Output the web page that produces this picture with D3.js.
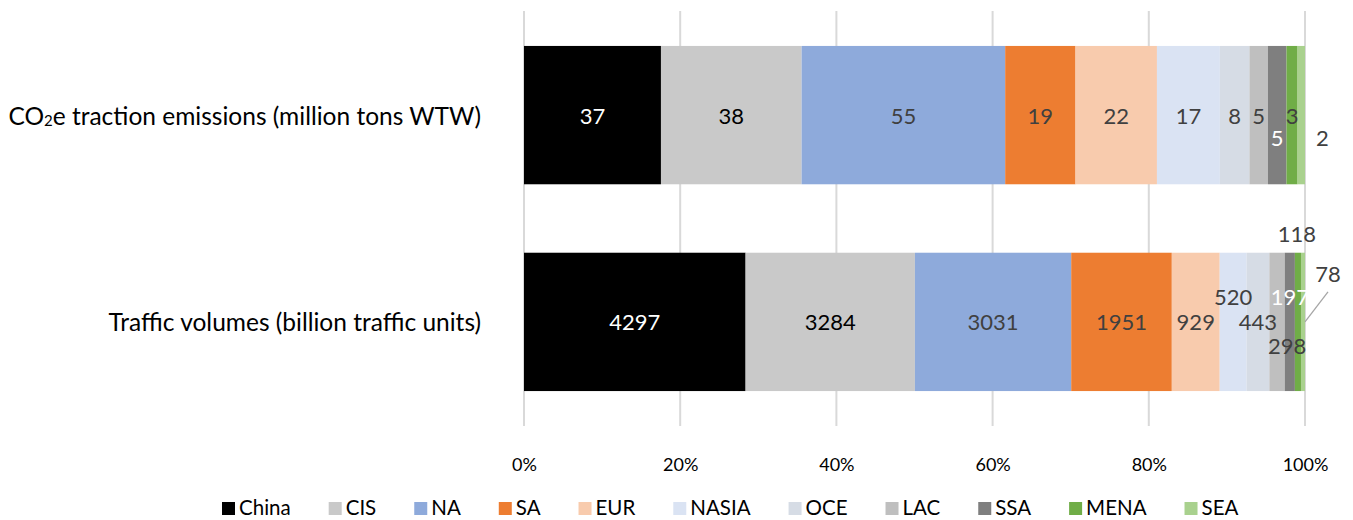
<!DOCTYPE html>
<html>
<head>
<meta charset="utf-8">
<script src="https://cdn.jsdelivr.net/npm/d3@7"></script>
<style>
  body { margin: 0; background: #fff; }
  svg { display: block; font-family: Lato, "Open Sans", sans-serif; }
</style>
</head>
<body>
<svg id="chart" width="1353" height="520"></svg>
<script>
// ---- data ----
const regions = ["China", "CIS", "NA", "SA", "EUR", "NASIA", "OCE", "LAC", "SSA", "MENA", "SEA"];
const categories = ["CO2e traction emissions (million tons WTW)", "Traffic volumes (billion traffic units)"];
const emissions = [37, 38, 55, 19, 22, 17, 8, 5, 5, 3, 2];
const traffic = [4297, 3284, 3031, 1951, 929, 520, 443, 298, 197, 118, 78];
const tickValues = [0, 0.2, 0.4, 0.6, 0.8, 1.0];
const tickLabels = ["0%", "20%", "40%", "60%", "80%", "100%"];

// ---- styles ----
const colors = ["#000000", "#c9c9c9", "#8eaadb", "#ed7d31", "#f8cbad", "#dae3f3", "#d6dce5", "#bfbfbf", "#7f7f7f", "#70ad47", "#a9d18e"];
const labelColors = ["#ffffff", "#000000", "#404040", "#404040", "#404040", "#404040", "#404040", "#404040", "#ffffff", "#404040", "#404040"];
// manual label nudges (dx, dy) for the crowded end segments, per category
const nudges = [
  [[0,0],[0,0],[0,0],[0,0],[0,0],[0,0],[0,0],[0,0],[0,22],[0,0],[21,22]],
  [[0,0],[0,0],[0,0],[0,0],[0,0],[0,-25],[0,0],[10,24],[0,-25],[-1,-88],[25,-48]]
];

const svg = d3.select("#chart");
const x = d3.scaleLinear().domain([0, 1]).range([524, 1305]);
const y = d3.scaleBand().domain(categories).range([11, 426]).paddingInner(0.331).paddingOuter(0.169);

// gridlines
svg.append("g").selectAll("line").data(tickValues).join("line")
  .attr("x1", d => x(d)).attr("x2", d => x(d))
  .attr("y1", 11).attr("y2", 426)
  .attr("stroke", "#d9d9d9").attr("stroke-width", 2);

// tick labels via axis
const axis = d3.axisBottom(x).tickValues(tickValues).tickFormat((d, i) => tickLabels[i]).tickSize(0).tickPadding(0);
const ax = svg.append("g").attr("transform", "translate(0,471)").call(axis);
ax.select(".domain").remove();
ax.selectAll("text").attr("font-size", 18).attr("fill", "#000").attr("font-family", "Lato, sans-serif").attr("dy", 0);

const seriesData = [emissions, traffic];
seriesData.forEach((vals, ci) => {
  const total = d3.sum(vals);
  let cum = 0;
  const segs = vals.map((v, i) => { const s = { i, v, x0: cum / total, x1: (cum + v) / total }; cum += v; return s; });
  const g = svg.append("g");
  const cat = categories[ci];
  g.selectAll("rect").data(segs).join("rect")
    .attr("x", d => x(d.x0)).attr("width", d => x(d.x1) - x(d.x0))
    .attr("y", y(cat)).attr("height", y.bandwidth())
    .attr("fill", d => colors[d.i]);
  const cy = y(cat) + y.bandwidth() / 2;
  // leader line for SEA in traffic
  if (ci === 1) {
    const s = segs[10];
    g.append("line")
      .attr("x1", x(1)).attr("y1", cy)
      .attr("x2", x((s.x0 + s.x1) / 2) + nudges[ci][10][0]).attr("y2", cy + nudges[ci][10][1] + 18)
      .attr("stroke", "#a6a6a6").attr("stroke-width", 1.3);
  }
  g.selectAll("text").data(segs).join("text")
    .attr("x", d => x((d.x0 + d.x1) / 2) + nudges[ci][d.i][0])
    .attr("y", d => cy + nudges[ci][d.i][1])
    .attr("text-anchor", "middle").attr("dominant-baseline", "central")
    .attr("font-size", 22).attr("fill", d => labelColors[d.i])
    .text(d => d.v);
});

// category labels
categories.forEach((c, ci) => {
  const t = svg.append("text")
    .attr("x", 481).attr("y", y(c) + y.bandwidth() / 2)
    .attr("text-anchor", "end").attr("dominant-baseline", "central")
    .attr("font-size", 24.5).attr("fill", "#000");
  if (c.startsWith("CO2")) {
    t.append("tspan").text("CO");
    t.append("tspan").text("2").attr("font-size", 15).attr("dy", 5);
    t.append("tspan").text("e traction  emissions (million tons WTW)").attr("dy", -5);
  } else {
    t.text(c);
  }
});

// legend
const leg = svg.append("g");
let lx = 222;
regions.forEach((r, i) => {
  leg.append("rect").attr("x", lx).attr("y", 502).attr("width", 13).attr("height", 13).attr("fill", colors[i]);
  const t = leg.append("text").attr("x", lx + 17).attr("y", 515).attr("font-size", 20.5).attr("fill", "#000").text(r);
  lx += 17 + t.node().getComputedTextLength() + 38;
});
</script>
</body>
</html>
